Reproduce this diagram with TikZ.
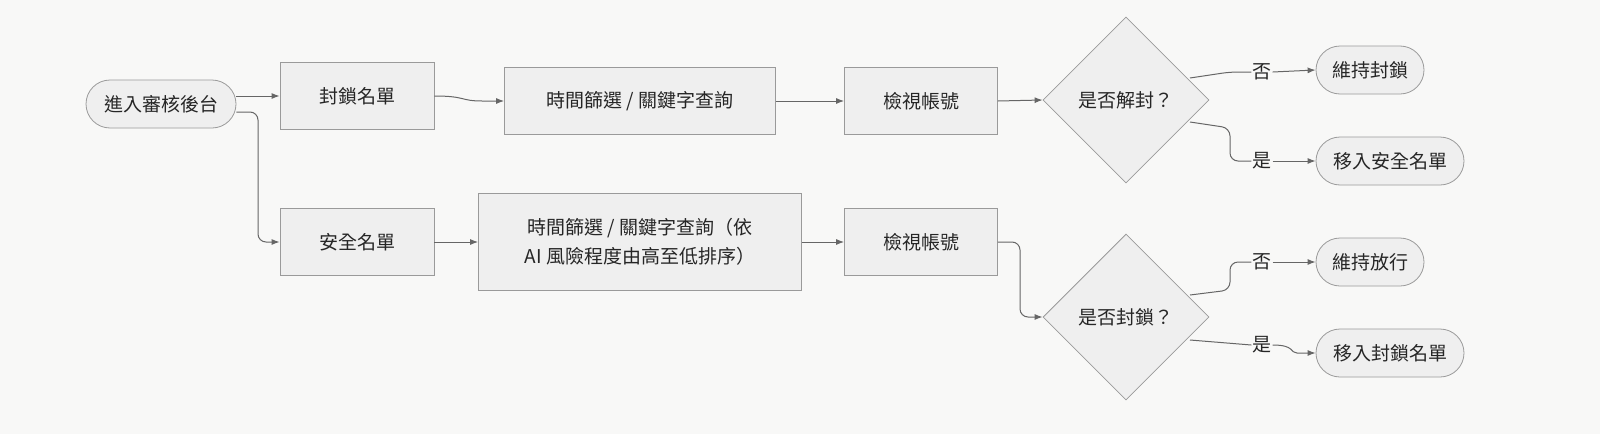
\documentclass[tikz,border=0pt]{standalone}
\usepackage{fontspec}
\setmainfont{Noto Sans CJK TC}
\usetikzlibrary{shapes.geometric,arrows.meta}
\definecolor{bg}{HTML}{F8F8F7}
\definecolor{nf}{HTML}{EFEFEF}
\definecolor{ns}{HTML}{9A9A9A}
\definecolor{ar}{HTML}{666666}
\begin{document}
\begin{tikzpicture}[x=1pt,y=-1pt,
  every node/.style={font=\fontsize{19}{29}\selectfont, text=black!85},
  box/.style={draw=ns,fill=nf,line width=0.8pt,minimum height=67pt,inner sep=0pt},
  pill/.style={draw=ns,fill=nf,line width=0.8pt,rounded corners=24pt,minimum height=48pt,inner sep=0pt},
  dia/.style={draw=ns,fill=nf,line width=0.8pt,diamond,minimum width=166pt,minimum height=166pt,inner sep=0pt},
  lab/.style={fill=bg,inner sep=1pt},
  ln/.style={draw=ar,line width=1pt,rounded corners=8pt},
  arr/.style={ln,-{Latex[length=8pt,width=6pt]}}]
\fill[bg] (0,0) rectangle (1600,434);
\node[pill,minimum width=150pt] (s) at (161,104) {進入審核後台};
\node[box,minimum width=154pt] (b1) at (357,96) {封鎖名單};
\node[box,minimum width=271pt] (t1) at (640,101) {時間篩選 / 關鍵字查詢};
\node[box,minimum width=153pt] (v1) at (921,101) {檢視帳號};
\node[dia] (d1) at (1126,100) {是否解封？};
\node[pill,minimum width=108pt] (k1) at (1370,70) {維持封鎖};
\node[pill,minimum width=148pt] (m1) at (1390,161) {移入安全名單};
\node[box,minimum width=154pt] (b2) at (357,242) {安全名單};
\node[box,minimum width=323pt,minimum height=97pt,align=center] (t2) at (640,242) {時間篩選 / 關鍵字查詢（依\\AI 風險程度由高至低排序）};
\node[box,minimum width=153pt] (v2) at (921,242) {檢視帳號};
\node[dia] (d2) at (1126,317) {是否封鎖？};
\node[pill,minimum width=108pt] (k2) at (1370,262) {維持放行};
\node[pill,minimum width=148pt] (m2) at (1390,353) {移入封鎖名單};
\node[lab] (n1) at (1262,72) {否};
\node[lab] (y1) at (1262,161) {是};
\node[lab] (n2) at (1262,262) {否};
\node[lab] (y2) at (1262,345) {是};
\draw[arr] (s.east |- b1) -- (b1.west);
\draw[arr] (s.east) ++(0,8) -| (258,242) -- (b2.west);
\draw[arr] (b1.east) .. controls (466,96) and (460,101) .. (490,101) -- (t1.west);
\draw[arr] (t1.east) -- (v1.west);
\draw[arr] (v1.east) -- (d1.west);
\draw[arr] (b2.east) -- (t2.west);
\draw[arr] (t2.east) -- (v2.west);
\draw[arr] (v2.east) -- (1020,242) -- (1020,317) -- (d2.west);
\draw[ln] (1190,78) -- (1230,72) -- (n1.west);
\draw[arr] (n1.east) -- (k1.west);
\draw[ln] (1190,122) -- (1230,128) -- (1230,161) -- (y1.west);
\draw[arr] (y1.east) -- (m1.west);
\draw[ln] (1190,295) -- (1230,290) -- (1230,262) -- (n2.west);
\draw[arr] (n2.east) -- (k2.west);
\draw[ln] (1190,340) -- (y2.west);
\draw[arr] (y2.east) .. controls (1295,345) and (1290,353) .. (1305,353) -- (m2.west);
\pgfresetboundingbox
\path[use as bounding box] (0,0) rectangle (1600,434);
\end{tikzpicture}
\end{document}
